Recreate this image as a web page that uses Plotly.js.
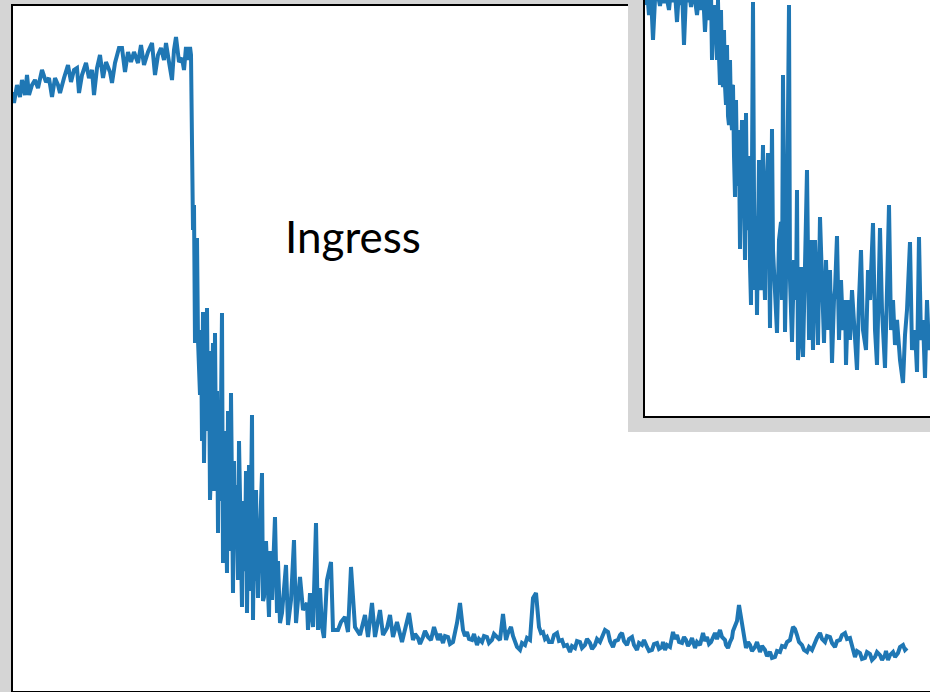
<!DOCTYPE html>
<html>
<head>
<meta charset="utf-8">
<script src="https://cdn.plot.ly/plotly-3.0.1.min.js"></script>
<style>
html,body{margin:0;padding:0;overflow:hidden;background:#d5d5d5;}
#chart{width:960px;height:692px;}
</style>
</head>
<body>
<div id="chart"></div>
<script>
// Main light curve: time (arbitrary units) and flux (arbitrary units)
const mainTime = [0,1,4,7,9,12,14,16,19,22,25,29,33,36,39,42,45,47,51,55,58,61,64,66,69,73,76,79,81,84,87,90,93,97,99,102,106,109,112,115,118,121,125,128,131,135,139,142,145,148,151,153,156,159,161,163,166,169,171,173,175,177,178,
180,181,182,183,184,185,186,187,188,189,190,191,192,193,194,195,196,197,198,199,200,201,202,203,204,205,206,207,208,209,210,211,212,213,214,215,216,217,218,219,220,221,222,223,224,225,226,227,228,229,230,231,232,233,234,235,236,237,238,239,240,241,242,243,244,245,247,249,250,251,253,254,256,257,259,260,262,264,265,267,
269,273,275,278,281,283,287,290,294,295,297,300,303,305,307,309,311,314,318,320,325,328,332,335,338,342,347,352,355,359,362,367,370,374,377,380,384,389,392,396,
400,402,405,407,410,412,415,418,421,423,425,427,430,432,435,437,440,444,447,450,452,454,456,459,461,464,466,469,471,474,476,479,481,484,487,490,493,495,498,500,502,504,507,509,512,514,517,520,523,526,528,530,532,534,536,539,541,544,546,549,551,554,557,559,562,564,567,569,572,574,577,579,582,584,587,589,592,595,597,600,602,605,607,609,611,614,616,619,621,624,626,629,631,634,636,639,641,644,646,649,650,652,654,657,660,662,664,666,669,671,673,675,677,679,682,684,687,690,692,694,696,698,700,702,704,707,709,712,713,715,717,719,720,722,724,726,727,729,731,733,735,737,739,742,744,747,749,752,754,757,759,762,764,767,769,772,774,777,780,782,784,786,789,791,794,796,799,801,804,807,809,812,814,817,819,822,824,827,829,832,834,837,839,842,844,847,849,852,854,857,859,862,864,867,869,872,873,875,877,880,882,885,887,890,892,894];
const mainFlux = [599,588,606,594,611,596,616,596,606,611,603,621,609,613,594,613,606,598,613,626,609,621,623,598,616,628,613,621,596,623,636,613,629,619,608,628,643,643,619,639,629,639,628,646,626,639,648,616,636,643,631,648,629,611,641,654,629,633,621,644,631,644,636,
461,486,348,420,453,351,330,296,361,250,379,228,300,260,383,271,340,191,221,320,348,200,358,231,300,158,284,190,330,378,128,260,231,150,118,280,211,140,298,180,98,230,150,206,120,111,250,174,100,84,190,120,131,220,78,150,226,100,180,276,71,160,110,201,130,93,160,218,90,94,150,118,74,140,91,120,174,78,130,68,
78,126,66,91,151,68,114,81,88,61,98,64,168,61,103,64,53,111,129,61,61,69,74,59,124,64,56,76,54,88,54,81,56,63,76,54,69,49,61,78,
51,57,53,47,54,60,54,51,64,56,51,57,48,55,54,47,49,68,88,61,55,59,52,51,57,46,52,49,55,54,48,51,57,54,51,77,51,58,64,55,49,44,41,48,46,53,51,93,98,64,58,59,52,54,49,49,56,58,50,51,45,46,39,45,43,50,49,43,46,52,48,42,46,52,49,55,61,59,50,44,50,51,56,58,50,46,52,54,46,41,48,46,51,44,40,41,47,48,42,44,49,41,46,44,59,52,56,49,48,54,51,45,48,53,43,49,46,58,50,54,47,49,55,58,52,61,54,51,46,43,49,53,60,64,70,86,80,64,52,43,49,46,40,44,49,39,45,41,35,39,33,34,40,39,45,44,49,51,64,62,56,49,46,41,39,44,41,47,53,58,52,49,55,54,48,44,50,51,56,58,52,53,44,34,40,38,32,33,39,37,31,34,39,36,31,36,40,31,36,39,34,38,44,46,41,43];

// Inset: zoom on the ingress
const insetTime = [0,2,4,6,8,10,12,15,17,19,21,24,26,28,30,32,34,36,37,39,41,43,44,46,48,50,52,54,56,58,60,62,64,66,
67,68,69,70,71,72,73,74,75,75.5,76,77,78,78.5,79,80,81,81.5,82,83,84,84.5,85,86,87,87.5,88,89,90,90.5,91,92,93,93.5,94,95,96,97,98,99,100,100.5,101,102,103,103.5,104,105,106,107,108,109,110,111,112,113,114,115,116,117,118,119,120,
121,123,125,127,128,130,132,134,136,137,138,140,142,144,145,147,149,151,152,153,155,156,158,160,162,164,166,168,170,172,173,175,177,179,181,183,185,187,189,190,192,194,196,198,200,201,203,205,207,210,212,214,216,218,221,223,225,228,230,232,235,237,240,242,244,246,248,250,252,255,258,260,262,265,267,270,272,274,276,278,280,282,284,286,289,292];
const insetFlux = [411,426,401,421,376,416,426,410,424,413,422,406,426,414,424,394,426,411,428,371,421,414,426,409,424,416,401,421,406,426,384,421,396,424,
356,400,411,376,395,356,416,360,331,390,406,340,329,380,386,330,311,360,371,300,291,350,356,300,286,330,331,260,219,300,316,250,286,230,266,167,270,296,200,241,156,250,303,200,186,260,249,150,111,250,414,219,126,200,101,180,256,140,126,220,271,150,116,
216,263,88,287,166,116,83,176,194,116,341,84,194,411,136,74,156,116,226,56,86,149,59,151,246,76,176,66,176,116,71,199,116,73,156,86,146,53,116,126,180,76,136,86,116,51,116,76,126,76,46,116,166,86,66,146,116,193,86,51,188,106,48,126,211,86,116,71,96,56,33,81,106,174,66,86,44,179,76,96,38,116,66,86,56,136];

const label = "Ingress";

const blue = "#1f77b4";
const gray = "#d5d5d5";

const traces = [
  {x: mainTime, y: mainFlux, type: "scatter", mode: "lines",
   line: {color: blue, width: 4}, xaxis: "x", yaxis: "y", hoverinfo: "skip"},
  {x: insetTime, y: insetFlux, type: "scatter", mode: "lines",
   line: {color: blue, width: 4}, xaxis: "x2", yaxis: "y2", hoverinfo: "skip"}
];

const W = 960, H = 692, L = 13, B = 1;
const pw = W - L, ph = H - B;
const mainTop = 5;
const insetLeft = 645, insetBottom = 416;
const shadowLeft = 628, shadowBottom = 432;

const bare = {showgrid: false, zeroline: false, showticklabels: false, ticks: "", fixedrange: true};

const layout = {
  width: W, height: H,
  margin: {l: L, r: 0, t: 0, b: B, pad: 0},
  paper_bgcolor: gray,
  plot_bgcolor: "white",
  showlegend: false,
  xaxis: Object.assign({}, bare, {domain: [0, 1], range: [0, pw], showline: true, linecolor: "black", linewidth: 2}),
  yaxis: Object.assign({}, bare, {domain: [0, (ph - mainTop) / ph], range: [0, ph - mainTop], showline: true, linecolor: "black", linewidth: 2}),
  xaxis2: Object.assign({}, bare, {domain: [(insetLeft - L) / pw, 1], range: [0, W - insetLeft], anchor: "y2", showline: true, linecolor: "black", linewidth: 2}),
  yaxis2: Object.assign({}, bare, {domain: [(ph - insetBottom) / ph, 1], range: [0, insetBottom], anchor: "x2", showline: true, linecolor: "black", linewidth: 2}),
  shapes: [
    {type: "rect", xref: "paper", yref: "paper", layer: "below",
     x0: (shadowLeft - L) / pw, x1: 1.1, y0: (ph - shadowBottom) / ph, y1: 1.1,
     fillcolor: gray, line: {width: 0}},
    {type: "line", xref: "paper", yref: "paper", layer: "below",
     x0: -2 / pw, x1: (shadowLeft - L) / pw, y0: (ph - mainTop) / ph, y1: (ph - mainTop) / ph,
     line: {color: "black", width: 2}}
  ],
  annotations: [
    {text: label, xref: "paper", yref: "paper", x: (353 - L) / pw, y: (ph - 236) / ph,
     xanchor: "center", yanchor: "middle", showarrow: false,
     font: {family: "Lato, 'Open Sans', sans-serif", size: 44, color: "black"}}
  ]
};

Plotly.newPlot("chart", traces, layout, {displayModeBar: false, staticPlot: true});
</script>
</body>
</html>
